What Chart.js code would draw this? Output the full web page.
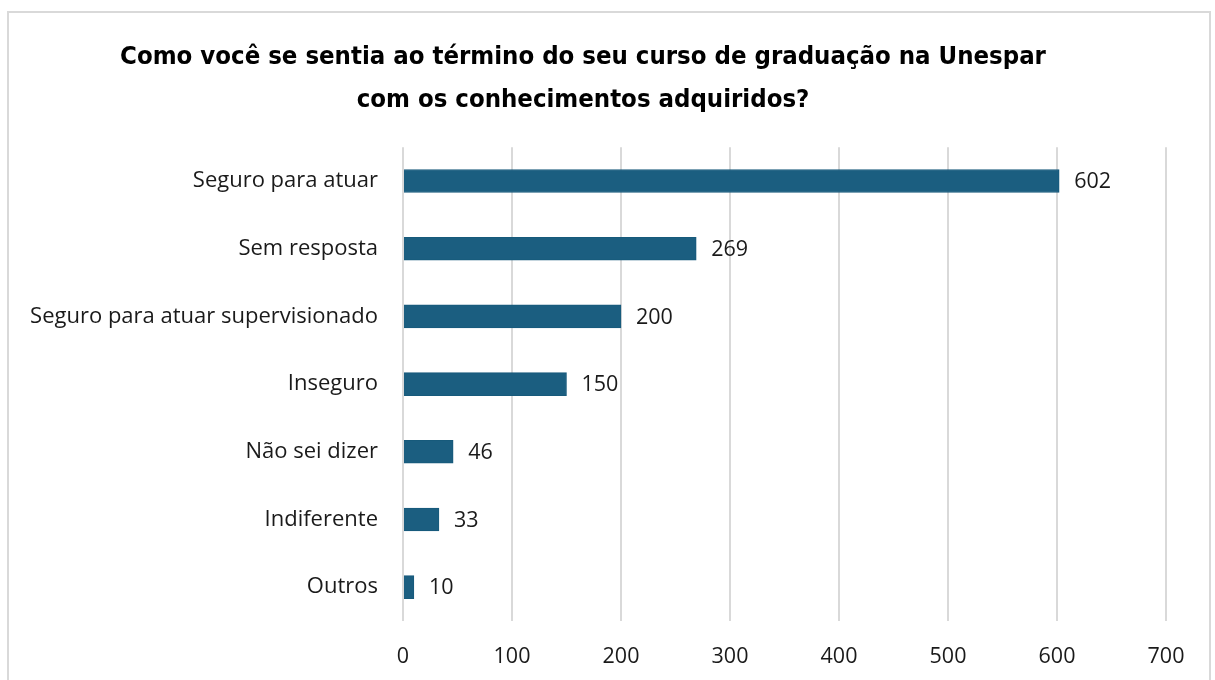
<!DOCTYPE html>
<html>
<head>
<meta charset="utf-8">
<script src="https://cdn.jsdelivr.net/npm/chart.js@4"></script>
<style>
  html, body { margin: 0; padding: 0; background: #fff; overflow: hidden; }
  #frame {
    position: absolute; left: 7px; top: 11px; width: 1204px; height: 700px;
    border: 2px solid #d9d9d9; box-sizing: border-box;
  }
  #wrap { position: absolute; left: 0; top: 0; width: 1215px; height: 680px; }
</style>
</head>
<body>
<div id="frame"></div>
<div id="wrap"><canvas id="chart"></canvas></div>
<script>
// Categories (top to bottom) and counts
const categories = [
    'Seguro para atuar',
    'Sem resposta',
    'Seguro para atuar supervisionado',
    'Inseguro',
    'Não sei dizer',
    'Indiferente',
    'Outros'
];
const counts = [602, 269, 200, 150, 46, 33, 10];
const xTicks = [0, 100, 200, 300, 400, 500, 600, 700];

const titleLines = [
    'Como você se sentia ao término do seu curso de graduação na Unespar',
    'com os conhecimentos adquiridos?'
];

const bodyFont = '"Open Sans", "Liberation Sans", Arial, sans-serif';

// Draw value labels just to the right of each bar
const valueLabels = {
    id: 'valueLabels',
    afterDatasetsDraw(chart) {
        const ctx = chart.ctx;
        const meta = chart.getDatasetMeta(0);
        ctx.save();
        ctx.font = '21.5px ' + bodyFont;
        ctx.fillStyle = '#1a1a1a';
        ctx.textAlign = 'left';
        ctx.textBaseline = 'middle';
        meta.data.forEach(function (bar, i) {
            ctx.fillText(String(counts[i]), bar.x + 15, bar.y + 1);
        });
        ctx.restore();
    }
};

const ctx = document.getElementById('chart').getContext('2d');
new Chart(ctx, {
    type: 'bar',
    data: {
        labels: categories,
        datasets: [{
            data: counts,
            backgroundColor: '#1b5e80',
            borderColor: '#175a7b',
            borderWidth: 1,
            barThickness: 23
        }]
    },
    options: {
        indexAxis: 'y',
        responsive: true,
        maintainAspectRatio: false,
        animation: false,
        layout: { padding: { left: 0, right: 49, top: 0, bottom: 0 } },
        plugins: {
            legend: { display: false },
            tooltip: { enabled: false },
            title: {
                display: true,
                text: titleLines,
                color: '#000',
                font: { family: '"Liberation Sans Narrow", "DejaVu Sans Condensed", sans-serif', size: 25.5, weight: 'bold', lineHeight: 1.69 },
                padding: { top: 36, bottom: 25 }
            }
        },
        scales: {
            x: {
                min: 0,
                max: 700,
                afterBuildTicks: function (scale) {
                    scale.ticks = xTicks.map(v => ({ value: v }));
                },
                afterFit: function (scale) { scale.height = 59; },
                grid: { color: '#d9d9d9', lineWidth: 2, drawTicks: false },
                border: { display: false },
                ticks: {
                    padding: 23,
                    color: '#1a1a1a',
                    font: { family: bodyFont, size: 21.5 }
                }
            },
            y: {
                afterFit: function (scale) { scale.width = 403; },
                grid: { display: false },
                border: { display: false },
                ticks: {
                    padding: 17,
                    color: '#1a1a1a',
                    font: { family: bodyFont, size: 22 }
                }
            }
        }
    },
    plugins: [valueLabels]
});
</script>
</body>
</html>
